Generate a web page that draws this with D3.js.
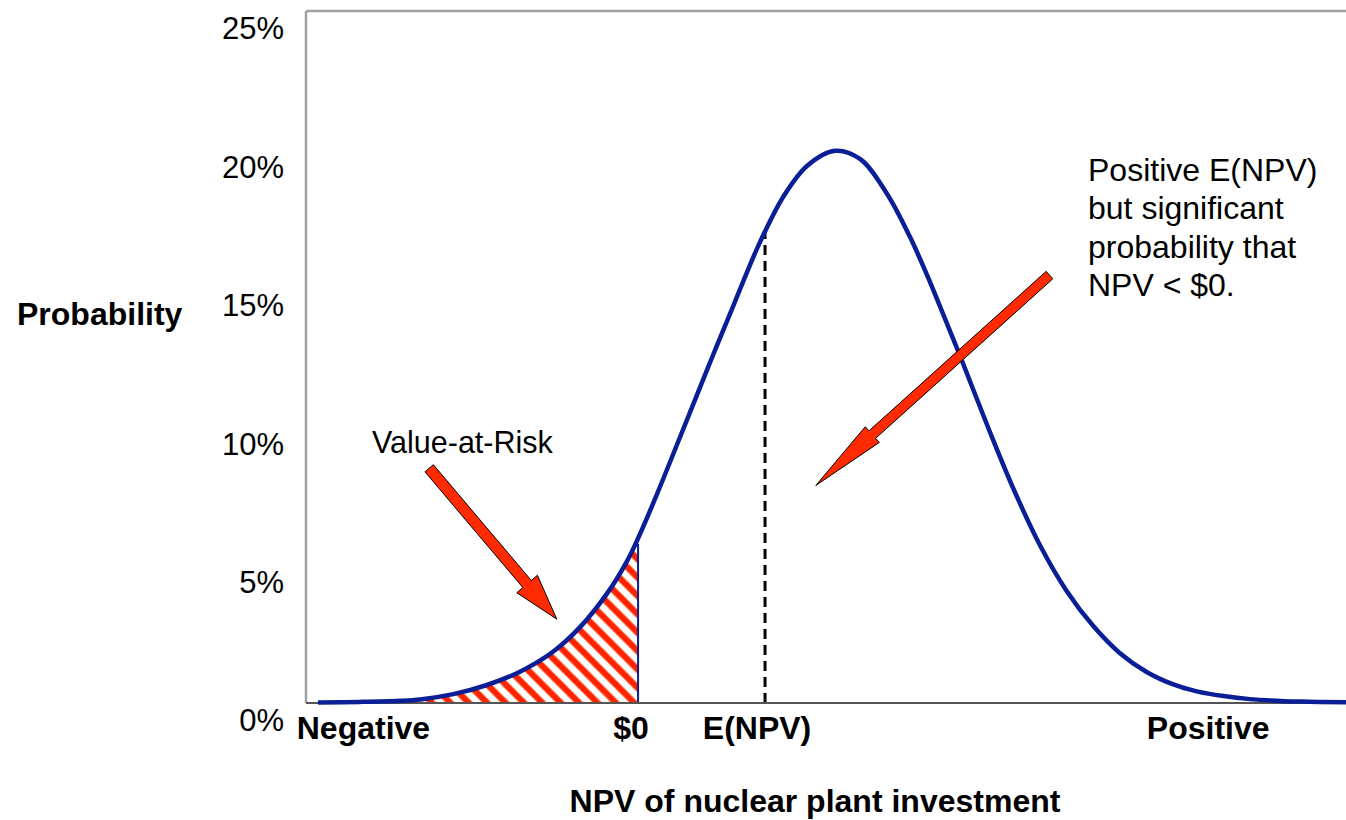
<!DOCTYPE html>
<html>
<head>
<meta charset="utf-8">
<script src="https://cdn.jsdelivr.net/npm/d3@7/dist/d3.min.js"></script>
<style>
  html, body { margin: 0; padding: 0; background: #fff; }
  svg text { font-family: "Liberation Sans", Arial, sans-serif; fill: #000; }
</style>
</head>
<body>
<div id="chart"></div>
<script>
/* ---------------------------------------------
   DATA  (NPV in arbitrary units, $0 = 0)
--------------------------------------------- */
const npv = [-5.04, -4.38, -3.75, -3.43, -2.91, -2.38, -1.86, -1.34, -0.91, -0.49, -0.18, 0,
             0.29, 0.66, 0.87, 1.08, 1.24, 1.50, 1.66, 1.92, 2.29, 2.66, 3.10, 3.50, 3.92,
             4.28, 4.60, 4.76, 5.07, 5.54, 5.91, 6.33, 6.75, 7.17, 7.59, 8.01, 8.43, 8.80,
             9.22, 9.64, 10.43, 11.15];
const prob = [0.02, 0.04, 0.08, 0.13, 0.32, 0.65, 1.13, 1.85, 2.75, 3.95, 5.10, 5.95,
              7.50, 9.60, 10.80, 12.00, 12.90, 14.35, 15.25, 16.65, 18.30, 19.40, 19.95, 19.65, 18.40,
              16.85, 15.20, 14.30, 12.55, 9.80, 7.75, 5.70, 4.05, 2.78, 1.80, 1.12, 0.67, 0.42,
              0.25, 0.14, 0.05, 0.03];

const yTicks = [0, 5, 10, 15, 20, 25];
const zeroNpv = 0;
const expectedNpv = 2;

const xLabels = [
    { text: "Negative", npv: -5.25, anchor: "start", dx: -8 },
    { text: "$0", npv: 0, anchor: "middle", dx: -7 },
    { text: "E(NPV)", npv: 2, anchor: "middle", dx: -8 },
    { text: "Positive", npv: 8.98, anchor: "middle", dx: 0 }
];

const varArrow = { from: [-3.29, 8.48], to: [-1.28, 3.03] };
const posArrow = { from: [6.48, 15.46], to: [2.80, 7.86] };
const noteLines = ["Positive E(NPV)", "but significant", "probability that", "NPV < $0."];

/* ---------------------------------------------
   LAYOUT
--------------------------------------------- */
const W = 1346, H = 820;
const plotL = 306, plotR = 1346, plotT = 11, plotB = 703;

const svg = d3.select("#chart").append("svg")
    .attr("width", W)
    .attr("height", H);

const x = d3.scaleLinear().domain([-5.23, 11.15]).range([plotL, plotR]);
const y = d3.scaleLinear().domain([0, 25]).range([plotB, plotT]);

const pts = npv.map((v, i) => ({ x: v, y: prob[i] }));

// hatch pattern
const defs = svg.append("defs");
const pat = defs.append("pattern")
    .attr("id", "hatch")
    .attr("patternUnits", "userSpaceOnUse")
    .attr("width", 13)
    .attr("height", 13)
    .attr("patternTransform", "rotate(-45)");
pat.append("rect").attr("width", 13).attr("height", 13).attr("fill", "#fff");
pat.append("rect").attr("x", 0).attr("width", 7).attr("height", 13).attr("fill", "#ff7a4a");
pat.append("rect").attr("x", 1).attr("width", 5).attr("height", 13).attr("fill", "#ff2200");

const curve = d3.curveCatmullRom.alpha(0.5);

/* ---------------------------------------------
   HATCHED AREA (NPV < 0)
--------------------------------------------- */
const area = d3.area()
    .x(d => x(d.x))
    .y0(y(0))
    .y1(d => y(d.y))
    .curve(curve);

svg.append("path")
    .datum(pts.filter(d => d.x <= zeroNpv))
    .attr("d", area)
    .attr("fill", "url(#hatch)");

/* ---------------------------------------------
   FRAME / AXES
--------------------------------------------- */
svg.append("line")
    .attr("x1", plotL).attr("x2", plotL)
    .attr("y1", plotT).attr("y2", plotB)
    .attr("stroke", "#a0a0a0").attr("stroke-width", 2.5);
svg.append("line")
    .attr("x1", plotL).attr("x2", plotR)
    .attr("y1", plotT).attr("y2", plotT)
    .attr("stroke", "#a0a0a0").attr("stroke-width", 2.5);

const yAxis = svg.append("g")
    .attr("transform", `translate(${plotL - 22},0)`)
    .call(d3.axisLeft(y).tickValues(yTicks).tickSize(0).tickFormat(d => d + "%"));
yAxis.select(".domain").remove();
yAxis.selectAll("text")
    .attr("x", 0)
    .attr("dy", "0.9em")
    .style("font-size", "31px")
    .style("font-family", "'Liberation Sans', Arial, sans-serif")
    .attr("fill", "#000");

// linear interpolation on the data to find the curve height
const interp = v => {
    const i = d3.bisector(d => d.x).left(pts, v);
    const a = pts[Math.max(0, i - 1)], b = pts[i];
    if (!a || !b || a === b) return (b || a).y;
    return a.y + (b.y - a.y) * (v - a.x) / (b.x - a.x);
};

// vertical line at $0
svg.append("line")
    .attr("x1", x(zeroNpv)).attr("x2", x(zeroNpv))
    .attr("y1", y(0)).attr("y2", y(interp(zeroNpv) - 0.2))
    .attr("stroke", "#0a1f96").attr("stroke-width", 2);

// dashed E(NPV) line
svg.append("line")
    .attr("x1", x(expectedNpv)).attr("x2", x(expectedNpv))
    .attr("y1", y(0)).attr("y2", y(interp(expectedNpv)))
    .attr("stroke", "#000").attr("stroke-width", 3)
    .attr("stroke-dasharray", "10,6");

// bottom axis line
svg.append("line")
    .attr("x1", plotL).attr("x2", plotR)
    .attr("y1", plotB).attr("y2", plotB)
    .attr("stroke", "#555").attr("stroke-width", 2);

/* ---------------------------------------------
   CURVE
--------------------------------------------- */
const line = d3.line()
    .x(d => x(d.x))
    .y(d => y(d.y))
    .curve(curve);

svg.append("path")
    .datum(pts)
    .attr("d", line)
    .attr("fill", "none")
    .attr("stroke", "#0a1f96")
    .attr("stroke-width", 4.5)
    .attr("stroke-linejoin", "round");

/* ---------------------------------------------
   ARROWS
--------------------------------------------- */
function arrowPath(a, shaft, headW, headL) {
    const x0 = x(a.from[0]), y0 = y(a.from[1]);
    const x1 = x(a.to[0]), y1 = y(a.to[1]);
    const dx = x1 - x0, dy = y1 - y0;
    const len = Math.hypot(dx, dy);
    const ux = dx / len, uy = dy / len;
    const nx = -uy, ny = ux;
    const bx = x1 - ux * headL, by = y1 - uy * headL;
    const p = [
        [x0 + nx * shaft / 2, y0 + ny * shaft / 2],
        [bx + nx * shaft / 2, by + ny * shaft / 2],
        [bx + nx * headW / 2, by + ny * headW / 2],
        [x1, y1],
        [bx - nx * headW / 2, by - ny * headW / 2],
        [bx - nx * shaft / 2, by - ny * shaft / 2],
        [x0 - nx * shaft / 2, y0 - ny * shaft / 2]
    ];
    return "M" + p.map(q => q.join(",")).join("L") + "Z";
}

svg.append("path")
    .attr("d", arrowPath(varArrow, 11, 27, 46))
    .attr("fill", "#ff2a00").attr("stroke", "#000").attr("stroke-width", 1);

svg.append("path")
    .attr("d", arrowPath(posArrow, 10, 21, 76))
    .attr("fill", "#ff2a00").attr("stroke", "#000").attr("stroke-width", 1);

/* ---------------------------------------------
   TEXT
--------------------------------------------- */
svg.selectAll(".xlab")
    .data(xLabels)
    .enter()
    .append("text")
    .attr("class", "xlab")
    .attr("x", d => x(d.npv) + d.dx)
    .attr("y", 739)
    .attr("text-anchor", d => d.anchor)
    .style("font-size", "32px")
    .style("font-weight", "bold")
    .text(d => d.text);

svg.append("text")
    .attr("x", 17).attr("y", 325)
    .style("font-size", "32px").style("font-weight", "bold")
    .text("Probability");

svg.append("text")
    .attr("x", 815).attr("y", 812)
    .attr("text-anchor", "middle")
    .style("font-size", "32px").style("font-weight", "bold")
    .text("NPV of nuclear plant investment");

svg.append("text")
    .attr("x", 372).attr("y", 453)
    .style("font-size", "30.5px")
    .text("Value-at-Risk");

svg.append("text")
    .attr("x", 1088).attr("y", 181)
    .style("font-size", "32px")
    .selectAll("tspan")
    .data(noteLines)
    .enter()
    .append("tspan")
    .attr("x", 1088)
    .attr("dy", (d, i) => i === 0 ? 0 : 38.3)
    .text(d => d);
</script>
</body>
</html>
